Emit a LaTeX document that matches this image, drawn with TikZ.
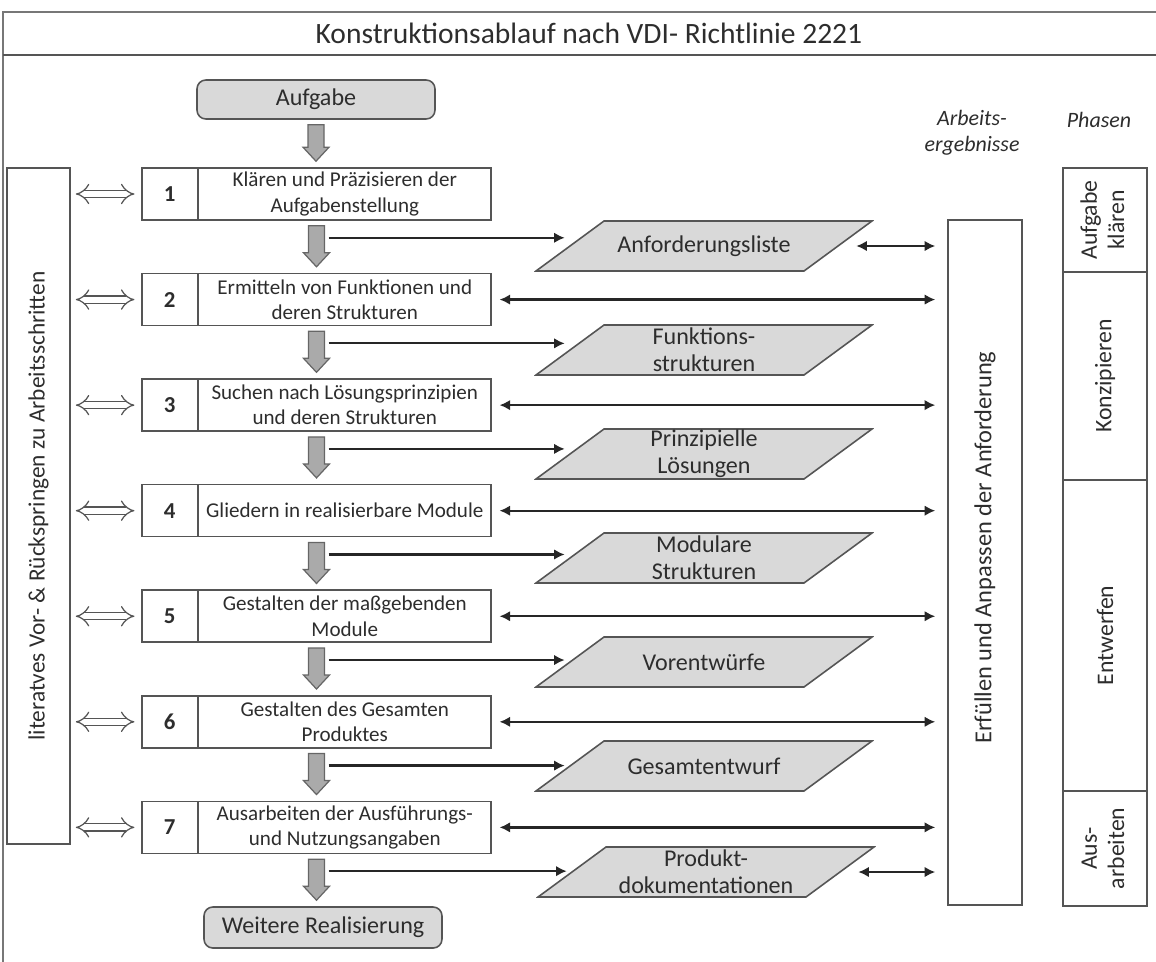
\documentclass[tikz,border=0pt]{standalone}
\usepackage{fontspec}
\setmainfont{Carlito}
\usepackage{tikz}
\usetikzlibrary{shapes.multipart, arrows.meta, positioning, calc}
\definecolor{boxgray}{RGB}{217,217,217}
\definecolor{arrowgray}{RGB}{170,170,170}
\definecolor{linegray}{RGB}{85,85,85}
\definecolor{textgray}{RGB}{45,45,45}

\newcommand{\numcell}[1]{\parbox[c][1.04cm][c]{1.1cm}{\centering\fontsize{13}{15}\selectfont\bfseries #1}}
\newcommand{\textcell}[1]{\parbox[c][1.04cm][c]{5.84cm}{\centering #1}}
\newcommand{\grayarrow}[2]{%
  \draw[blockarrow] ($(#1.south)+(-8,5)$) -- ($(#1.south |- #2.north)+(-8,-20)$)
    -- ($(#1.south |- #2.north)+(-13,-20)$) -- ($(#1.south |- #2.north)+(0,-6)$)
    -- ($(#1.south |- #2.north)+(13,-20)$) -- ($(#1.south |- #2.north)+(8,-20)$)
    -- ($(#1.south)+(8,5)$) -- cycle;}

\begin{document}
\begin{tikzpicture}[
    x=0.02cm, y=-0.02cm,
    node distance=1.04cm,
    every node/.style={text=textgray},
    stepbox/.style={rectangle split, rectangle split horizontal, rectangle split parts=2, draw=linegray, line width=0.9pt, inner sep=0pt, font=\fontsize{12}{14.3}\selectfont},
    result/.style={rectangle, minimum width=6.8cm, minimum height=1.04cm, inner sep=0pt, align=center, font=\fontsize{13.7}{15.4}\selectfont,
        path picture={\draw[draw=linegray, line width=0.9pt, fill=boxgray]
            ($(path picture bounding box.center)+(-168,25)$) -- ($(path picture bounding box.center)+(100,25)$)
            -- ($(path picture bounding box.center)+(168,-25)$) -- ($(path picture bounding box.center)+(-100,-25)$) -- cycle;}},
    terminal/.style={rectangle, rounded corners=5pt, draw=linegray, line width=0.9pt, fill=boxgray, minimum width=4.76cm, minimum height=0.78cm, font=\fontsize{13.7}{16}\selectfont},
    sidebox/.style={rectangle, draw=linegray, line width=0.9pt, inner sep=0pt},
    phase/.style={sidebox, minimum width=1.68cm, outer sep=0pt, font=\fontsize{13.5}{15.5}\selectfont},
    heading/.style={font=\fontsize{12.5}{15}\selectfont\itshape, align=center},
    arrow/.style={-{Latex[length=6pt, width=6pt]}, line width=1.3pt, draw=black!85},
    dblarrow/.style={arrow, {Latex[length=6pt, width=6pt]}-{Latex[length=6pt, width=6pt]}},
    hollow/.style={{Implies}-{Implies}, draw=linegray, line width=0.7pt, double=white, double distance=0.12cm},
    blockarrow/.style={fill=arrowgray, draw=black!60, line width=0.7pt}
]
\useasboundingbox (0,0) rectangle (1156,961);

% Frame and title
\draw[linegray!80, line width=0.9pt] (1160,12) -- (3,12) -- (3,965);
\draw[linegray, line width=1.2pt] (3,55) -- (1160,55);
\node[font=\fontsize{16.8}{20}\selectfont] (title) at (589,33) {Konstruktionsablauf nach VDI- Richtlinie 2221};

% Column heads
\node[heading] (outcomes) at (972,133) {Arbeits-\\ergebnisse};
\node[heading] (phases) at (1099,120) {Phasen};

% Start and end
\node[terminal] (start) at (316,99.5) {Aufgabe};
\node[terminal, minimum height=0.82cm] (finish) at (323,927.5) {Weitere Realisierung};

% Work steps
\node[stepbox] (step1) at (316.5,194) {\numcell{1}\nodepart{two}\textcell{Klären und Präzisieren der\\Aufgabenstellung}};
\node[stepbox, below=of step1] (step2) {\numcell{2}\nodepart{two}\textcell{Ermitteln von Funktionen und\\deren Strukturen}};
\node[stepbox, below=of step2] (step3) {\numcell{3}\nodepart{two}\textcell{Suchen nach Lösungsprinzipien\\und deren Strukturen}};
\node[stepbox, below=of step3] (step4) {\numcell{4}\nodepart{two}\textcell{Gliedern in realisierbare Module}};
\node[stepbox, below=of step4] (step5) {\numcell{5}\nodepart{two}\textcell{Gestalten der maßgebenden\\Module}};
\node[stepbox, below=of step5] (step6) {\numcell{6}\nodepart{two}\textcell{Gestalten des Gesamten\\Produktes}};
\node[stepbox, below=of step6] (step7) {\numcell{7}\nodepart{two}\textcell{Ausarbeiten der Ausführungs-\\und Nutzungsangaben}};

% Work results
\node[result] (res1) at (704,246) {Anforderungsliste};
\node[result] (res2) at (704,350) {Funktions-\\strukturen};
\node[result] (res3) at (704,454) {Prinzipielle\\Lösungen};
\node[result] (res4) at (704,558) {Modulare\\Strukturen};
\node[result] (res5) at (704,662) {Vorentwürfe};
\node[result] (res6) at (704,766) {Gesamtentwurf};
\node[result] (res7) at (706,872) {Produkt-\\dokumentationen};

% Side columns
\node[sidebox, minimum width=1.26cm, minimum height=13.52cm, font=\fontsize{13.3}{15}\selectfont] (iter) at (38.5,506) {\rotatebox{90}{literatves Vor- \& Rückspringen zu Arbeitsschritten}};
\node[sidebox, minimum width=1.48cm, minimum height=13.7cm, font=\fontsize{13.9}{16}\selectfont] (goal) at (985,562.5) {\rotatebox{90}{\hspace*{0.6cm}Erfüllen und Anpassen der Anforderung}};

% Phases
\node[phase, minimum height=2.08cm] (phase1) at (1105,220) {\rotatebox{90}{\begin{tabular}{@{}c@{}}Aufgabe\\klären\end{tabular}}};
\node[phase, minimum height=4.16cm, below=0pt of phase1] (phase2) {\rotatebox{90}{Konzipieren}};
\node[phase, minimum height=6.22cm, below=0pt of phase2] (phase3) {\rotatebox{90}{Entwerfen}};
\node[phase, minimum height=2.3cm, below=0pt of phase3] (phase4) {\rotatebox{90}{\begin{tabular}{@{}c@{}}Aus-\\arbeiten\end{tabular}}};

% Flow arrows
\grayarrow{start}{step1}
\grayarrow{step1}{step2}
\grayarrow{step2}{step3}
\grayarrow{step3}{step4}
\grayarrow{step4}{step5}
\grayarrow{step5}{step6}
\grayarrow{step6}{step7}
\grayarrow{step7}{finish}

% Steps to results
\coordinate (out1) at ($(step1.south)+(12,17)$);
\coordinate (out2) at ($(step2.south)+(12,17)$);
\coordinate (out3) at ($(step3.south)+(12,17)$);
\coordinate (out4) at ($(step4.south)+(12,17)$);
\coordinate (out5) at ($(step5.south)+(12,17)$);
\coordinate (out6) at ($(step6.south)+(12,17)$);
\coordinate (out7) at ($(step7.south)+(12,17)$);
\draw[arrow, shorten >=-0.62cm] (out1) -- (out1 -| res1.west);
\draw[arrow, shorten >=-0.62cm] (out2) -- (out2 -| res2.west);
\draw[arrow, shorten >=-0.62cm] (out3) -- (out3 -| res3.west);
\draw[arrow, shorten >=-0.62cm] (out4) -- (out4 -| res4.west);
\draw[arrow, shorten >=-0.62cm] (out5) -- (out5 -| res5.west);
\draw[arrow, shorten >=-0.62cm] (out6) -- (out6 -| res6.west);
\draw[arrow, shorten >=-0.62cm] (out7) -- (out7 -| res7.west);

% Links to requirements
\draw[dblarrow, shorten >=0.24cm] ([xshift=-0.36cm]res1.east) -- (res1.east -| goal.west);
\draw[dblarrow, shorten <=0.16cm, shorten >=0.24cm] (step2.east) -- (step2.east -| goal.west);
\draw[dblarrow, shorten <=0.16cm, shorten >=0.24cm] (step3.east) -- (step3.east -| goal.west);
\draw[dblarrow, shorten <=0.16cm, shorten >=0.24cm] (step4.east) -- (step4.east -| goal.west);
\draw[dblarrow, shorten <=0.16cm, shorten >=0.24cm] (step5.east) -- (step5.east -| goal.west);
\draw[dblarrow, shorten <=0.16cm, shorten >=0.24cm] (step6.east) -- (step6.east -| goal.west);
\draw[dblarrow, shorten <=0.16cm, shorten >=0.24cm] (step7.east) -- (step7.east -| goal.west);
\draw[dblarrow, shorten >=0.24cm] ([xshift=-0.36cm]res7.east) -- (res7.east -| goal.west);

% Iteration
\draw[hollow, shorten <=0.1cm, shorten >=0.14cm] (iter.east |- step1.west) -- (step1.west);
\draw[hollow, shorten <=0.1cm, shorten >=0.14cm] (iter.east |- step2.west) -- (step2.west);
\draw[hollow, shorten <=0.1cm, shorten >=0.14cm] (iter.east |- step3.west) -- (step3.west);
\draw[hollow, shorten <=0.1cm, shorten >=0.14cm] (iter.east |- step4.west) -- (step4.west);
\draw[hollow, shorten <=0.1cm, shorten >=0.14cm] (iter.east |- step5.west) -- (step5.west);
\draw[hollow, shorten <=0.1cm, shorten >=0.14cm] (iter.east |- step6.west) -- (step6.west);
\draw[hollow, shorten <=0.1cm, shorten >=0.14cm] (iter.east |- step7.west) -- (step7.west);

\end{tikzpicture}
\end{document}
